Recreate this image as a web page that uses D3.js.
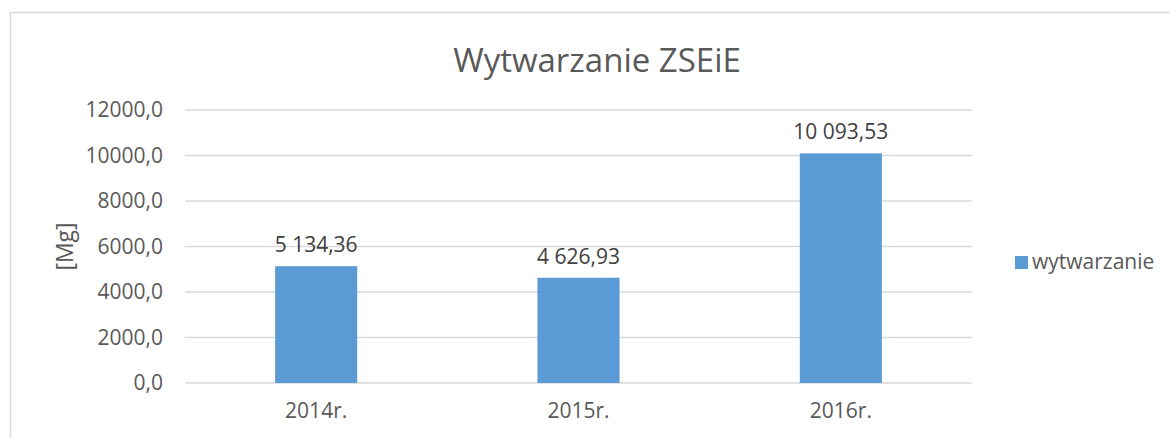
<!DOCTYPE html>
<html>
<head>
<meta charset="utf-8">
<script src="https://cdn.jsdelivr.net/npm/d3@7"></script>
<style>
  body { margin: 0; background: #fff; }
  text { font-family: "Open Sans", sans-serif; fill: #595959; }
</style>
</head>
<body>
<div id="chart"></div>
<script>
const years = ["2014r.", "2015r.", "2016r."];
const values = [5134.36, 4626.93, 10093.53];
const valueLabels = ["5 134,36", "4 626,93", "10 093,53"];
const yTicks = [0, 2000, 4000, 6000, 8000, 10000, 12000];
const seriesName = "wytwarzanie";

const W = 1170, H = 438;
const margin = {top: 110, left: 185, right: 198, bottom: 55};
const width = W - margin.left - margin.right,
    height = H - margin.top - margin.bottom;
const fs = "21px";

const svg = d3.select("#chart").append("svg")
    .attr("width", W)
    .attr("height", H);

// chart border
svg.append("rect")
    .attr("x", 10.5).attr("y", 12.5)
    .attr("width", 1200).attr("height", 500)
    .attr("fill", "none")
    .attr("stroke", "#d9d9d9")
    .attr("stroke-width", 1.5);

const g = svg.append("g")
    .attr("transform", "translate(" + margin.left + "," + margin.top + ")");

const x = d3.scaleBand()
    .domain(years)
    .range([0, width])
    .padding(0);

const y = d3.scaleLinear()
    .domain([0, 12000])
    .range([height, 0]);

// gridlines
g.append("g")
    .selectAll("line")
    .data(yTicks)
    .join("line")
    .attr("x1", 0).attr("x2", width)
    .attr("y1", d => y(d)).attr("y2", d => y(d))
    .attr("stroke", "#d9d9d9")
    .attr("stroke-width", 1.5);

// y axis labels
const yAxis = g.append("g")
    .call(d3.axisLeft(y).tickValues(yTicks).tickSize(0).tickPadding(22)
        .tickFormat(d => d3.format(".1f")(d).replace(".", ",")));
yAxis.select(".domain").remove();
yAxis.selectAll("text")
    .style("font-family", "'Open Sans', sans-serif")
    .style("font-size", fs)
    .attr("fill", "#595959");

const barW = x.bandwidth() * 0.313;

g.selectAll("rect.bar")
    .data(values)
    .join("rect")
    .attr("class", "bar")
    .attr("x", (d, i) => x(years[i]) + (x.bandwidth() - barW) / 2)
    .attr("y", d => y(d))
    .attr("width", barW)
    .attr("height", d => height - y(d))
    .attr("fill", "#5b9bd5");

// value labels
g.selectAll("text.val")
    .data(values)
    .join("text")
    .attr("class", "val")
    .attr("x", (d, i) => x(years[i]) + x.bandwidth() / 2)
    .attr("y", d => y(d) - 14)
    .style("text-anchor", "middle")
    .style("font-size", fs)
    .style("fill", "#404040")
    .text((d, i) => valueLabels[i]);

// x axis labels
const xAxis = g.append("g")
    .attr("transform", "translate(0," + height + ")")
    .call(d3.axisBottom(x).tickSize(0).tickPadding(20));
xAxis.select(".domain").remove();
xAxis.selectAll("text")
    .style("font-family", "'Open Sans', sans-serif")
    .style("font-size", fs)
    .attr("fill", "#595959");

// y axis title
svg.append("text")
    .attr("transform", "translate(73," + (margin.top + height / 2) + ") rotate(-90)")
    .style("text-anchor", "middle")
    .style("font-size", "23px")
    .text("[Mg]");

// chart title
svg.append("text")
    .attr("x", 597)
    .attr("y", 72)
    .style("text-anchor", "middle")
    .style("font-size", "33px")
    .text("Wytwarzanie ZSEiE");

// legend
const legend = svg.append("g")
    .attr("transform", "translate(1015,256)");
legend.append("rect")
    .attr("width", 13).attr("height", 13)
    .attr("fill", "#5b9bd5");
legend.append("text")
    .attr("x", 17).attr("y", 13)
    .style("font-size", fs)
    .text(seriesName);
</script>
</body>
</html>
